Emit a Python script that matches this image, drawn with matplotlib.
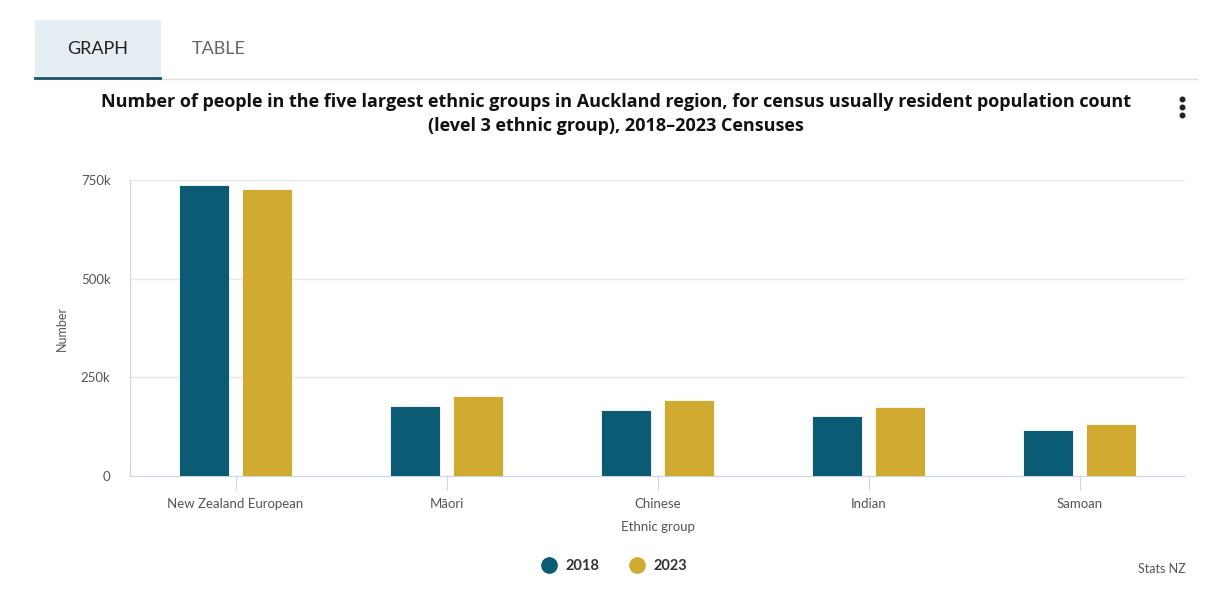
import matplotlib.pyplot as plt
import numpy as np
from matplotlib.ticker import FuncFormatter

categories = ["New Zealand European", "Māori", "Chinese", "Indian", "Samoan"]
years = ["2018", "2023"]
values_2018 = [737000, 177000, 167000, 152000, 117000]
values_2023 = [727000, 203000, 193000, 175000, 132000]
y_ticks = [0, 250000, 500000, 750000]

col_2018 = "#0b5b74"
col_2023 = "#d1ab31"
grey = "#555555"

plt.rcParams['font.family'] = ['Lato', 'DejaVu Sans']

fig = plt.figure(figsize=(12.24, 5.89), dpi=100)
W, H = 1224, 589

def fx(px):
    return px / W

def fy(py):
    return 1 - py / H

# tabs at the top
fig.patches.append(plt.Rectangle((fx(35), fy(78)), fx(125), fy(20) - fy(78),
                                 transform=fig.transFigure, color="#e5eef2", zorder=0))
fig.add_artist(plt.Line2D([fx(160), fx(1197)], [fy(79), fy(79)], color="#dddddd", lw=1))
fig.add_artist(plt.Line2D([fx(35), fx(160)], [fy(77.5), fy(77.5)], color="#1b5166", lw=2))
fig.text(fx(98), fy(49), "GRAPH", ha="center", va="center", fontsize=13, color="#222222")
fig.text(fx(219), fy(49), "TABLE", ha="center", va="center", fontsize=13, color="#666666")

# title
fig.text(fx(616), fy(114), "Number of people in the five largest ethnic groups in Auckland region, for census usually resident population count\n(level 3 ethnic group), 2018–2023 Censuses",
         ha="center", va="center", fontsize=13, fontweight="bold", color="#111111",
         linespacing=1.38, family=["Open Sans", "DejaVu Sans"])

# menu dots
fig.add_artist(plt.Line2D([fx(1182)] * 3, [fy(99), fy(107), fy(115)], ls="none",
                          marker="o", ms=3.3, color="#222222"))

ax = fig.add_axes([fx(130), fy(476), fx(1185) - fx(130), fy(180) - fy(476)])

x = np.arange(len(categories))
w = 0.237
off = 0.147
ax.bar(x - off, values_2018, width=w, color=col_2018, edgecolor="white", linewidth=0.6, zorder=3)
ax.bar(x + off, values_2023, width=w, color=col_2023, edgecolor="white", linewidth=0.6, zorder=3)

ax.set_xlim(-0.5, len(categories) - 0.5)
ax.set_ylim(0, 750000)
ax.set_yticks(y_ticks)
ax.yaxis.set_major_formatter(FuncFormatter(lambda v, p: "0" if v == 0 else f"{int(v/1000)}k"))
ax.grid(axis="y", color="#e6e6e6", lw=1, zorder=0)
ax.set_xticks(x)
ax.set_xticklabels(categories)
ax.tick_params(axis="x", length=10, color="#ccd6eb", labelcolor=grey, labelsize=9.5, pad=6)
ax.tick_params(axis="y", length=0, labelcolor=grey, labelsize=9.5, pad=14)
for s in ["top", "right"]:
    ax.spines[s].set_visible(False)
ax.spines["left"].set_color("#ccd6eb")
ax.spines["bottom"].set_color("#ccd6eb")

ax.set_ylabel("Number", color=grey, fontsize=9, labelpad=9)
ax.set_xlabel("Ethnic group", color=grey, fontsize=9.5, labelpad=8)

# legend
for px, lab, c in [(549, years[0], col_2018), (637, years[1], col_2023)]:
    fig.add_artist(plt.Line2D([fx(px)], [fy(565)], ls="none", marker="o", ms=11, color=c))
    fig.text(fx(px + 17), fy(566), lab, ha="left", va="center", fontsize=10.5,
             fontweight="bold", color="#333333")

fig.text(fx(1186), fy(569), "Stats NZ", ha="right", va="center", fontsize=9, color="#555555")

fig.savefig("out.png", dpi=100)
